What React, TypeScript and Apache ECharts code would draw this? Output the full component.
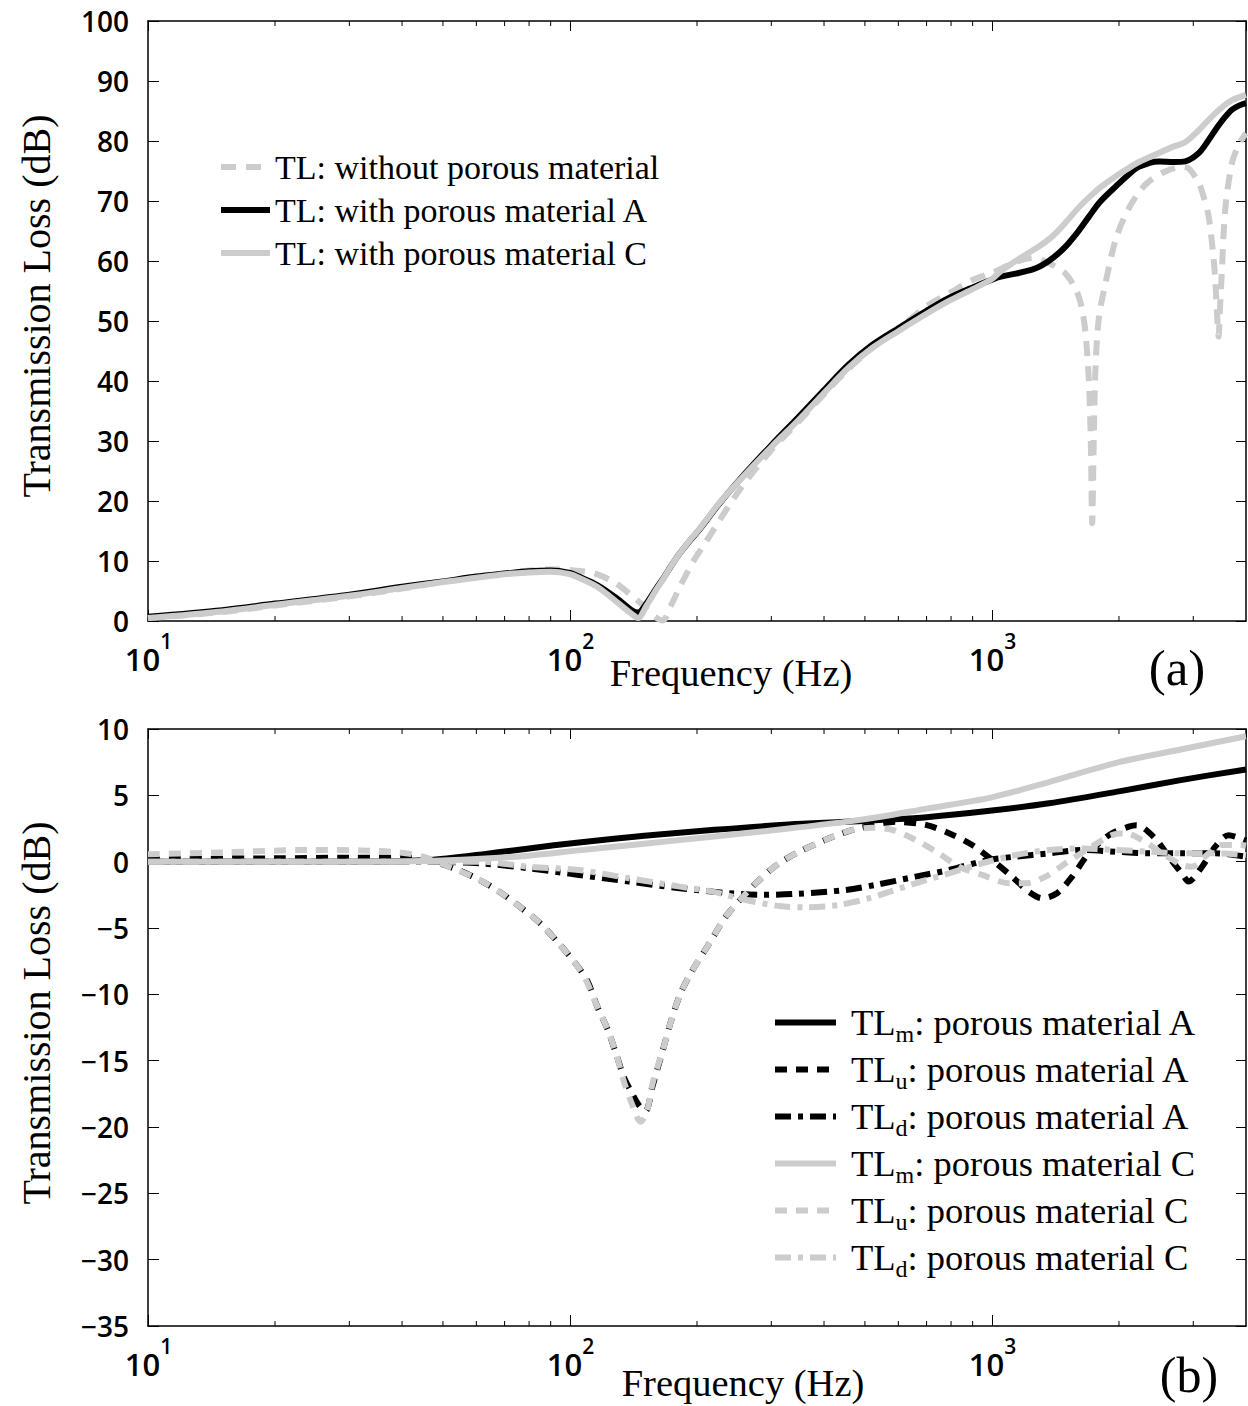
import React, { useEffect, useRef } from "react";
import * as echarts from "echarts";

// ---------- Panel (a) data ----------
const freqAC = [10, 15, 20, 30, 40, 50, 60, 70, 80, 90, 100, 105, 116, 129, 140, 145, 152, 160, 166, 173, 180, 192, 203, 225, 252, 300, 348, 400, 457, 520, 600, 700, 789, 900, 1000, 1050, 1138, 1250, 1316, 1400, 1494, 1600, 1698, 1800, 1963, 2100, 2229, 2485, 2700, 2870, 3092, 3250, 3381, 3550, 3704, 3850, 4000];
const tlMaterialA = [0.7, 1.8, 2.9, 4.4, 5.7, 6.6, 7.4, 7.9, 8.3, 8.4, 8.0, 7.4, 6.0, 3.8, 1.8, 1.4, 3.0, 5.4, 7.0, 9.0, 10.8, 13.3, 15.3, 19.4, 23.5, 29.3, 34.0, 38.5, 42.7, 46.0, 48.8, 51.7, 53.8, 55.6, 56.9, 57.4, 57.9, 58.6, 59.3, 60.6, 62.4, 64.9, 67.4, 69.8, 72.4, 74.3, 75.7, 76.6, 76.5, 76.6, 78.0, 80.0, 81.8, 83.8, 85.2, 85.9, 86.3];
const tlMaterialC = [0.5, 1.6, 2.7, 4.2, 5.5, 6.5, 7.2, 7.8, 8.1, 8.2, 7.8, 7.2, 5.7, 3.2, 1.2, 0.5, 2.6, 5.2, 6.9, 9.0, 10.8, 13.4, 15.4, 19.5, 23.4, 29.0, 33.5, 38.0, 42.2, 45.5, 48.3, 51.2, 53.3, 55.3, 57.0, 58.3, 60.0, 61.8, 62.8, 64.3, 66.4, 68.8, 70.6, 72.2, 74.1, 75.4, 76.5, 78.0, 79.1, 79.8, 81.8, 83.4, 84.6, 85.9, 86.8, 87.3, 87.7];
const freqWithout = [10, 15, 20, 30, 40, 50, 60, 70, 80, 90, 100, 114, 127, 138, 150, 159, 166, 173, 184, 197, 210, 252, 300, 348, 400, 457, 520, 600, 697, 800, 897, 1013, 1100, 1180, 1260, 1350, 1420, 1494, 1560, 1607, 1640, 1667, 1697, 1715, 1728, 1744, 1760, 1792, 1858, 1963, 2100, 2300, 2550, 2818, 2930, 3092, 3180, 3263, 3340, 3381, 3420, 3443, 3470, 3508, 3570, 3704, 3850, 4000];
const tlWithout = [0.5, 1.5, 2.6, 4.1, 5.4, 6.5, 7.3, 7.9, 8.4, 8.6, 8.5, 7.95, 6.5, 4.6, 2.4, 0.7, 0.1, 2.4, 6.3, 10.2, 13.2, 21.8, 28.5, 33.2, 37.8, 42.0, 45.5, 48.6, 52.4, 54.8, 56.8, 58.2, 59.4, 60.2, 60.5, 59.8, 59.0, 57.9, 56.0, 54.0, 51.5, 47.9, 40.0, 30.0, 16.3, 31.3, 42.4, 50.5, 56.3, 63.5, 68.5, 72.6, 74.8, 75.7, 75.4, 73.0, 70.5, 67.4, 61.5, 57.0, 50.5, 47.4, 52.0, 58.5, 68.5, 76.3, 79.5, 81.3];

// ---------- Panel (b) data ----------
const freqTLm = [10, 20, 30, 45, 60, 80, 105, 150, 220, 330, 450, 550, 700, 1000, 1365, 2000, 2800, 4000];
const tlmA = [0, 0, 0, 0.1, 0.5, 1.0, 1.45, 1.95, 2.4, 2.8, 3.0, 3.15, 3.35, 3.85, 4.4, 5.3, 6.15, 6.95];
const tlmC = [0, 0, 0, 0.05, 0.2, 0.45, 0.85, 1.35, 1.9, 2.5, 3.0, 3.4, 4.0, 4.85, 6.0, 7.5, 8.45, 9.45];
const freqTLuA = [10, 20, 30, 40, 45, 53, 60, 68, 76, 85, 94, 103, 110, 116, 123, 129, 134, 140, 146, 151, 157, 166, 174, 183, 195, 214, 234, 257, 281, 313, 356, 411, 467, 530, 591, 697, 791, 898, 1000, 1116, 1222, 1315, 1426, 1549, 1697, 1892, 2110, 2200, 2437, 2622, 2818, 2923, 3147, 3381, 3636, 3880, 4000];
const tluA = [0.2, 0.25, 0.3, 0.3, 0.2, -0.5, -1.25, -2.26, -3.39, -4.64, -6.15, -7.66, -9.0, -10.9, -12.7, -14.6, -16.2, -17.4, -18.4, -18.8, -16.9, -14.2, -11.9, -9.9, -8.2, -6.15, -4.14, -2.64, -1.38, -0.12, 0.88, 1.76, 2.39, 2.77, 3.0, 2.77, 2.14, 1.26, 0.13, -1.13, -2.26, -2.76, -2.38, -1.13, 0.63, 2.0, 2.64, 2.75, 1.76, 0.38, -0.88, -1.5, -0.38, 1.13, 2.0, 1.76, 1.6];
const freqTLuC = [10, 15, 24, 32, 39.5, 44.8, 52.8, 60, 68, 76, 85, 94, 103, 109, 116, 123, 129, 134, 140, 147, 152, 157, 166, 174, 183, 195, 214, 234, 257, 281, 313, 356, 411, 467, 520, 580, 659, 748, 835, 948, 1097, 1202, 1340, 1494, 1697, 1927, 2072, 2268, 2531, 2818, 2979, 3263, 3508, 3880, 4000];
const tluC = [0.55, 0.7, 0.88, 0.85, 0.7, 0.38, -0.5, -1.25, -2.26, -3.39, -4.64, -6.15, -7.66, -8.9, -10.9, -12.7, -14.6, -16.5, -18.2, -19.6, -18.9, -16.7, -14.2, -11.9, -9.9, -8.2, -6.15, -4.14, -2.64, -1.38, -0.12, 0.88, 1.76, 2.4, 2.55, 2.4, 1.64, 0.63, -0.38, -1.0, -1.63, -1.63, -1.13, -0.12, 1.0, 2.0, 2.14, 1.64, 0.63, -0.25, -0.38, 0.63, 1.26, 1.26, 1.2];
const freqTLdA = [10, 30, 45, 61, 80, 105, 138, 182, 239, 286, 343, 451, 530, 659, 791, 980, 1138, 1365, 1637, 1963, 2356, 2818, 3381, 4000];
const tldA = [0, 0, 0, -0.12, -0.5, -1.0, -1.5, -2.0, -2.38, -2.5, -2.43, -2.13, -1.75, -1.13, -0.63, 0.13, 0.38, 0.63, 0.88, 0.75, 0.63, 0.63, 0.63, 0.38];
const freqTLdC = [10, 30, 45, 61, 80, 105, 138, 182, 218, 261, 313, 362, 434, 511, 550, 659, 791, 948, 1138, 1365, 1637, 1963, 2356, 2818, 3381, 4000];
const tldC = [0, 0, 0, 0, -0.38, -0.63, -1.25, -1.88, -2.26, -2.89, -3.34, -3.44, -3.26, -2.76, -2.45, -1.63, -0.88, -0.12, 0.5, 0.88, 1.0, 0.88, 0.75, 0.63, 0.63, 0.5];

// ---------- axes / labels ----------
const minorTickFreqs = [20, 30, 40, 50, 60, 70, 80, 90, 200, 300, 400, 500, 600, 700, 800, 900, 2000, 3000];
const yTicksA = { min: 0, max: 100, interval: 10 };
const yTicksB = { min: -35, max: 10, interval: 5 };
const legendNamesA = ["TL: without porous material", "TL: with porous material A", "TL: with porous material C"];
const legendNamesB = ["TLm: porous material A", "TLu: porous material A", "TLd: porous material A", "TLm: porous material C", "TLu: porous material C", "TLd: porous material C"];
const xTitle = "Frequency (Hz)";
const yTitle = "Transmission Loss (dB)";

const SERIF = "'Liberation Serif', 'Times New Roman', serif";
const SANS = "'Open Sans', 'DejaVu Sans', sans-serif";
const GRAY = "#cccccc";
const BLACK = "#000000";

const pairs = (xs: number[], ys: number[]) => xs.map((x, i) => [x, ys[i]]);

const expLabel = (v: number) => {
  const e = Math.log10(v);
  const r = Math.round(e);
  if (Math.abs(e - r) < 1e-6) return `{sp| }{b|10}{s|${r}}`;
  return "";
};

const minus = (v: number) => (v < 0 ? "\u2212" + Math.abs(v) : String(v));

function bottomX(gridIndex: number) {
  return {
    type: "log",
    logBase: 10,
    gridIndex,
    min: 10,
    max: 4000,
    position: "bottom",
    axisLine: { show: true, onZero: false, lineStyle: { color: BLACK, width: 1.5 } },
    axisTick: { show: true, inside: true, length: 11, lineStyle: { color: BLACK, width: 1 } },
    axisLabel: {
      show: true,
      margin: 9,
      showMaxLabel: false,
      formatter: expLabel,
      color: BLACK,
      fontFamily: SANS,
      rich: {
        sp: { fontSize: 1, width: 1, lineHeight: 44 },
        b: { fontFamily: SANS, fontSize: 31, fontWeight: 600, color: BLACK, lineHeight: 31, verticalAlign: "bottom" },
        s: { fontFamily: SANS, fontSize: 21, fontWeight: 600, color: BLACK, lineHeight: 21, verticalAlign: "top" },
      },
    },
    splitLine: { show: false },
    minorTick: { show: false },
  };
}

function topX(gridIndex: number) {
  return {
    type: "log",
    logBase: 10,
    gridIndex,
    min: 10,
    max: 4000,
    position: "top",
    axisLine: { show: true, onZero: false, lineStyle: { color: BLACK, width: 1.5 } },
    axisTick: { show: true, inside: true, length: 10, lineStyle: { color: BLACK, width: 1 } },
    axisLabel: { show: false },
    splitLine: { show: false },
  };
}

function leftY(gridIndex: number, t: { min: number; max: number; interval: number }) {
  return {
    type: "value",
    gridIndex,
    min: t.min,
    max: t.max,
    interval: t.interval,
    position: "left",
    axisLine: { show: true, onZero: false, lineStyle: { color: BLACK, width: 1.5 } },
    axisTick: { show: true, inside: true, length: 11, lineStyle: { color: BLACK, width: 1 } },
    axisLabel: { show: true, margin: 19, formatter: minus, color: BLACK, fontFamily: SANS, fontSize: 28, fontWeight: 600 },
    splitLine: { show: false },
  };
}

function rightY(gridIndex: number, t: { min: number; max: number; interval: number }) {
  return {
    type: "value",
    gridIndex,
    min: t.min,
    max: t.max,
    interval: t.interval,
    position: "right",
    axisLine: { show: true, onZero: false, lineStyle: { color: BLACK, width: 1.5 } },
    axisTick: { show: true, inside: true, length: 10, lineStyle: { color: BLACK, width: 1 } },
    axisLabel: { show: false },
    splitLine: { show: false },
  };
}

function minorTicks(xAxisIndex: number, yAxisIndex: number, yBase: number) {
  return {
    type: "custom",
    name: "minor-ticks",
    xAxisIndex,
    yAxisIndex,
    silent: true,
    clip: false,
    z: 5,
    data: minorTickFreqs.map((f) => [f, yBase]),
    renderItem: (params: any, api: any) => {
      const pt = api.coord([api.value(0), api.value(1)]);
      const cs = params.coordSys;
      const x = pt[0];
      const yb = cs.y + cs.height;
      const yt = cs.y;
      return {
        type: "group",
        children: [
          { type: "line", shape: { x1: x, y1: yb, x2: x, y2: yb - 5 }, style: { stroke: BLACK, lineWidth: 1 } },
          { type: "line", shape: { x1: x, y1: yt, x2: x, y2: yt + 5 }, style: { stroke: BLACK, lineWidth: 1 } },
        ],
      };
    },
  };
}

function lineSeries(name: string, xi: number, yi: number, xs: number[], ys: number[], color: string, type: any, z: number) {
  return {
    type: "line",
    name,
    xAxisIndex: xi,
    yAxisIndex: yi,
    data: pairs(xs, ys),
    symbol: "none",
    showSymbol: false,
    smooth: 0.3,
    z,
    lineStyle: { color, width: 6, type, cap: "butt", join: "round" },
    itemStyle: { color },
    emphasis: { disabled: true },
  };
}

const legendFormatter = (name: string) => {
  const m = /^TL([mud]): (.*)$/.exec(name);
  if (m) return `{g| }{t|TL}{s|${m[1]}}{t|: ${m[2]}}`;
  return `{t|${name}}`;
};

export default function App() {
  const ref = useRef<HTMLDivElement>(null);
  useEffect(() => {
    document.body.style.margin = "0";
    if (!ref.current) return;
    const chart = echarts.init(ref.current, null, { renderer: "svg" });
    const dashA = [15, 10];
    const dashB = [12, 9];
    const dashDot = [16, 7, 5, 7];
    const option: any = {
      animation: false,
      backgroundColor: "#ffffff",
      grid: [
        { left: 148, top: 21, width: 1098, height: 600, containLabel: false },
        { left: 148, top: 729, width: 1098, height: 597, containLabel: false },
      ],
      xAxis: [bottomX(0), topX(0), bottomX(1), topX(1)],
      yAxis: [leftY(0, yTicksA), rightY(0, yTicksA), leftY(1, yTicksB), rightY(1, yTicksB)],
      legend: [
        {
          data: legendNamesA,
          orient: "vertical",
          left: 218,
          top: 150,
          padding: 0,
          itemGap: 9,
          itemWidth: 49,
          itemHeight: 14,
          selectedMode: false,
          formatter: legendFormatter,
          itemStyle: { opacity: 0 },
          lineStyle: { width: "inherit", type: "inherit", color: "inherit" },
          textStyle: {
            rich: {
              t: { fontFamily: SERIF, fontSize: 34, lineHeight: 43, color: BLACK },
            },
          },
        },
        {
          data: legendNamesB,
          orient: "vertical",
          left: 772,
          top: 1004,
          padding: 0,
          itemGap: 5,
          itemWidth: 61,
          itemHeight: 14,
          selectedMode: false,
          formatter: legendFormatter,
          itemStyle: { opacity: 0 },
          lineStyle: { width: "inherit", type: "inherit", color: "inherit" },
          textStyle: {
            rich: {
              g: { width: 10, fontSize: 10 },
              t: { fontFamily: SERIF, fontSize: 36.5, lineHeight: 47, color: BLACK },
              s: { fontFamily: SERIF, fontSize: 24, lineHeight: 10, verticalAlign: "bottom", color: BLACK },
            },
          },
        },
      ],
      graphic: [
        { type: "text", x: 731, y: 673, style: { text: xTitle, fontFamily: SERIF, fontSize: 38.5, fill: BLACK, align: "center", verticalAlign: "middle" } },
        { type: "text", x: 743, y: 1383, style: { text: xTitle, fontFamily: SERIF, fontSize: 38.5, fill: BLACK, align: "center", verticalAlign: "middle" } },
        { type: "text", x: 36, y: 306, rotation: Math.PI / 2, style: { text: yTitle, fontFamily: SERIF, fontSize: 40, fill: BLACK, align: "center", verticalAlign: "middle" } },
        { type: "text", x: 36, y: 1013, rotation: Math.PI / 2, style: { text: yTitle, fontFamily: SERIF, fontSize: 40, fill: BLACK, align: "center", verticalAlign: "middle" } },
        { type: "text", x: 1177, y: 668, style: { text: "(a)", fontFamily: SERIF, fontSize: 51, fill: BLACK, align: "center", verticalAlign: "middle" } },
        { type: "text", x: 1189, y: 1375, style: { text: "(b)", fontFamily: SERIF, fontSize: 50, fill: BLACK, align: "center", verticalAlign: "middle" } },
      ],
      series: [
        lineSeries(legendNamesA[0], 0, 0, freqWithout, tlWithout, GRAY, dashA, 2),
        lineSeries(legendNamesA[1], 0, 0, freqAC, tlMaterialA, BLACK, "solid", 3),
        lineSeries(legendNamesA[2], 0, 0, freqAC, tlMaterialC, GRAY, "solid", 4),
        lineSeries(legendNamesB[0], 2, 2, freqTLm, tlmA, BLACK, "solid", 2),
        lineSeries(legendNamesB[1], 2, 2, freqTLuA, tluA, BLACK, dashB, 2),
        lineSeries(legendNamesB[2], 2, 2, freqTLdA, tldA, BLACK, dashDot, 2),
        lineSeries(legendNamesB[3], 2, 2, freqTLm, tlmC, GRAY, "solid", 3),
        lineSeries(legendNamesB[4], 2, 2, freqTLuC, tluC, GRAY, dashB, 3),
        lineSeries(legendNamesB[5], 2, 2, freqTLdC, tldC, GRAY, dashDot, 3),
        minorTicks(0, 0, yTicksA.min),
        minorTicks(2, 2, yTicksB.min),
      ],
    };
    chart.setOption(option);
    return () => chart.dispose();
  }, []);
  return <div ref={ref} style={{ width: 1248, height: 1406, background: "#fff" }} />;
}
